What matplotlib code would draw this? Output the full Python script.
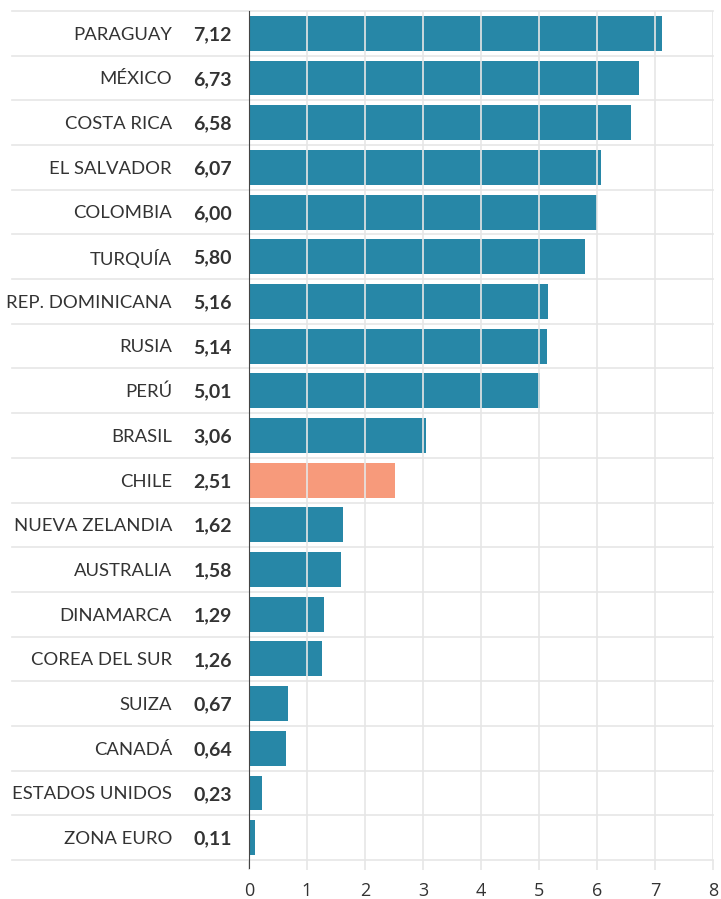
import matplotlib.pyplot as plt

countries = ["PARAGUAY", "MÉXICO", "COSTA RICA", "EL SALVADOR", "COLOMBIA", "TURQUÍA",
             "REP. DOMINICANA", "RUSIA", "PERÚ", "BRASIL", "CHILE", "NUEVA ZELANDIA",
             "AUSTRALIA", "DINAMARCA", "COREA DEL SUR", "SUIZA", "CANADÁ",
             "ESTADOS UNIDOS", "ZONA EURO"]
values = [7.12, 6.73, 6.58, 6.07, 6.00, 5.80, 5.16, 5.14, 5.01, 3.06, 2.51, 1.62,
          1.58, 1.29, 1.26, 0.67, 0.64, 0.23, 0.11]
highlight = "CHILE"
xticks = [0, 1, 2, 3, 4, 5, 6, 7, 8]

plt.rcParams['font.family'] = ['Lato', 'DejaVu Sans']

BLUE = "#2787a7"
SALMON = "#f79a7b"
GRID = "#e6e6e6"
TXT = "#333333"

fig = plt.figure(figsize=(7.21, 8.99), dpi=100)
ax = fig.add_axes([249 / 721, 39 / 899, 464 / 721, 849 / 899])

y = list(range(len(countries)))
colors = [SALMON if c == highlight else BLUE for c in countries]
ax.barh(y, values, height=0.78, color=colors, zorder=2)

ax.set_ylim(len(countries) - 0.5, -0.5)
ax.set_xlim(0, 8)
ax.set_xticks(xticks)
ax.set_xticklabels([str(t) for t in xticks], fontsize=13, color=TXT, family="Open Sans")
ax.set_yticks([])

# vertical grid drawn over the bars
for t in xticks[1:]:
    ax.axvline(t, color=GRID, lw=1.2, zorder=3)

# row separators running under the labels too
for i in range(len(countries) + 1):
    ax.plot([-0.51, 1], [i - 0.5, i - 0.5], transform=ax.get_yaxis_transform(),
            color=GRID, lw=1.2, clip_on=False, zorder=1)

for i, (c, v) in enumerate(zip(countries, values)):
    ax.text(-0.166, i + 0.03, c, transform=ax.get_yaxis_transform(), ha="right",
            va="center", fontsize=13.3, color=TXT)
    ax.text(-0.037, i + 0.03, f"{v:.2f}".replace(".", ","), transform=ax.get_yaxis_transform(),
            ha="right", va="center", fontsize=14, fontweight="bold", color=TXT)

for s in ["top", "right", "bottom"]:
    ax.spines[s].set_visible(False)
ax.spines["left"].set_color("#444444")
ax.spines["left"].set_bounds(len(countries) - 0.5 + 0.18, -0.5)
ax.spines["left"].set_zorder(4)
ax.tick_params(axis="x", length=7, color=GRID, width=1.2, pad=9)

fig.savefig("out.png", dpi=100)
